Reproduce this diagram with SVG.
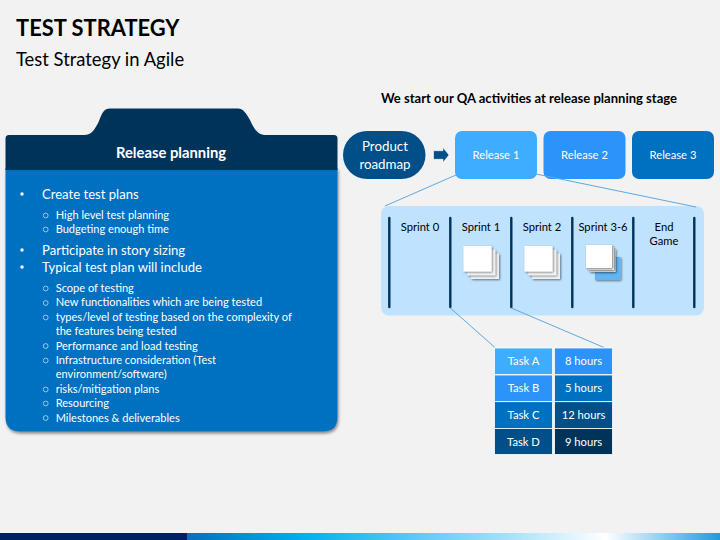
<svg xmlns="http://www.w3.org/2000/svg" width="720" height="540" viewBox="0 0 720 540">
<style>
text{font-family:"Lato","Liberation Sans",sans-serif}
.w{fill:#fff}
.l1{font-size:13.1px;fill:#fff}
.l2{font-size:11.05px;fill:#fff}
.c{text-anchor:middle}
.bar{stroke:#003359;stroke-width:2.4;stroke-linecap:round;fill:none}
.conn{stroke:#5ea8e0;stroke-width:1;fill:none}
.ring{fill:none;stroke:#d5e6f5;stroke-width:.7}
.s{font-size:11.2px;fill:#000;text-anchor:middle}
.t{font-size:11.2px;fill:#fff;text-anchor:middle}
.cell{stroke:#fff;stroke-width:.8}
</style>
<defs>
<linearGradient id="foot" x1="0" x2="1" y1="0" y2="0">
<stop offset="0" stop-color="#0070c0"/><stop offset=".22" stop-color="#00b0f0"/><stop offset=".6" stop-color="#a6e0f8"/><stop offset=".786" stop-color="#ffffff"/><stop offset="1" stop-color="#1e9be0"/>
</linearGradient>
<filter id="sh" x="-10%" y="-10%" width="125%" height="125%"><feDropShadow dx="1" dy="2" stdDeviation="1.6" flood-color="#000" flood-opacity=".45"/></filter>
<filter id="sh2" x="-25%" y="-25%" width="160%" height="160%"><feDropShadow dx="1" dy="1" stdDeviation=".8" flood-color="#000" flood-opacity=".5"/></filter>
<g id="stack">
<rect x="7.500" y="7.500" width="28" height="25.500" fill="#f2f2f2" filter="url(#sh2)"/>
<rect x="3.700" y="3.700" width="28" height="25.500" fill="#f6f6f6" filter="url(#sh2)"/>
<rect x="0" y="0" width="28" height="25.500" fill="#fff" filter="url(#sh2)"/>
</g>
</defs>
<rect width="720" height="540" fill="#f2f2f2"/>
<g id="title">
<text x="16" y="36" font-size="21.900" font-weight="700" fill="#000">TEST STRATEGY</text>
<text x="16" y="66" font-size="18.400" fill="#000">Test Strategy in Agile</text>
<text x="529" y="103" font-size="13.050" font-weight="700" fill="#000" text-anchor="middle">We start our QA activities at release planning stage</text>
</g>
<g id="release-planning">
<path d="M5.500 168H337.500V417Q337.500 431.500 323 431.500H20Q5.500 431.500 5.500 417Z" fill="#0070c0" filter="url(#sh)"/>
<path d="M9 135H84C92 135 95 129 99 121C102 113 104 108.500 110 108.500H238C243 108.500 246 113 250 120C254 129 258 135 266 135H334Q337.500 135 337.500 138.500V170H5.500V138.500Q5.500 135 9 135Z" fill="#003359"/>
<text x="171" y="158" font-size="14.800" font-weight="700" class="w c">Release planning</text>
<g>
<circle cx="22" cy="194" r="1.700" fill="#fff"/><text x="42" y="199" class="l1">Create test plans</text>
<circle cx="22" cy="250" r="1.700" fill="#fff"/><text x="42" y="255" class="l1">Participate in story sizing</text>
<circle cx="22" cy="267" r="1.700" fill="#fff"/><text x="42" y="272" class="l1">Typical test plan will include</text>
</g>
<g>
<circle class="ring" cx="45.700" cy="215.500" r="2.400"/><text x="55.700" y="219" class="l2">High level test planning</text>
<circle class="ring" cx="45.700" cy="229.500" r="2.400"/><text x="55.700" y="233" class="l2">Budgeting enough time</text>
<circle class="ring" cx="45.700" cy="288.500" r="2.400"/><text x="55.700" y="292" class="l2">Scope of testing</text>
<circle class="ring" cx="45.700" cy="303" r="2.400"/><text x="55.700" y="306" class="l2">New functionalities which are being tested</text>
<circle class="ring" cx="45.700" cy="317.500" r="2.400"/><text x="55.700" y="321" class="l2">types/level of testing based on the complexity of</text>
<text x="55.700" y="335" class="l2">the features being tested</text>
<circle class="ring" cx="45.700" cy="346" r="2.400"/><text x="55.700" y="349.500" class="l2">Performance and load testing</text>
<circle class="ring" cx="45.700" cy="360.500" r="2.400"/><text x="55.700" y="364" class="l2">Infrastructure consideration (Test</text>
<text x="55.700" y="378" class="l2">environment/software)</text>
<circle class="ring" cx="45.700" cy="389.500" r="2.400"/><text x="55.700" y="393" class="l2">risks/mitigation plans</text>
<circle class="ring" cx="45.700" cy="403.500" r="2.400"/><text x="55.700" y="407" class="l2">Resourcing</text>
<circle class="ring" cx="45.700" cy="418" r="2.400"/><text x="55.700" y="421.500" class="l2">Milestones &amp; deliverables</text>
</g>
</g>
<g id="product-roadmap">
<rect x="343" y="131" width="82.500" height="48" rx="24" fill="#004f88"/>
<text x="385" y="151" font-size="13.300" class="w c">Product</text>
<text x="385" y="168.500" font-size="13.300" class="w c">roadmap</text>
</g>
<path id="arrow" d="M433.500 150.700H443V147.500L449 155L443 162.500V159.300H433.500Z" fill="#004f88" stroke="#fff" stroke-width=".6"/>
<g id="release-1"><rect x="455" y="131" width="82" height="48" rx="7" fill="#3fadff"/><text x="496" y="159" class="t">Release 1</text></g>
<g id="release-2"><rect x="543.500" y="131" width="82" height="48" rx="7" fill="#2b93fa"/><text x="584.500" y="159" class="t">Release 2</text></g>
<g id="release-3"><rect x="632" y="131" width="82" height="48" rx="7" fill="#0070c0"/><text x="673" y="159" class="t">Release 3</text></g>
<g id="sprints">
<rect x="381" y="206" width="323" height="109.500" rx="8" fill="#bfe3ff"/>
<path class="bar" d="M389.300 218V307M450.300 218V307M511.300 218V307M572.300 218V307M633.300 218V307M694.300 218V307"/>
<text x="420" y="231" class="s">Sprint 0</text>
<text x="481" y="231" class="s">Sprint 1</text>
<text x="542" y="231" class="s">Sprint 2</text>
<text x="603" y="231" class="s">Sprint 3-6</text>
<text x="664" y="231" class="s">End</text>
<text x="664" y="245" class="s">Game</text>
<use href="#stack" x="463.500" y="246"/>
<use href="#stack" x="524.500" y="246"/>
<g id="stack-blue">
<rect x="595" y="257" width="25.500" height="23" fill="#62b5f5" filter="url(#sh2)"/>
<rect x="589.500" y="249" width="26" height="23" fill="#f2f2f2" filter="url(#sh2)"/>
<rect x="588" y="247" width="26" height="23" fill="#f6f6f6" filter="url(#sh2)"/>
<rect x="586" y="245" width="26" height="23" fill="#fff" filter="url(#sh2)"/>
</g>
</g>
<g id="connectors">
<path class="conn" d="M456 175L385 206"/>
<path class="conn" d="M536 174L696 207"/>
<path class="conn" d="M450.300 308L495 347.500"/>
<path class="conn" d="M511.300 308L604 347.500"/>
</g>
<g id="tasks">
<rect class="cell" x="494.500" y="348" width="58" height="26.700" fill="#3fadff"/><text x="523.500" y="365" class="t">Task A</text>
<rect class="cell" x="554.500" y="348" width="58" height="26.700" fill="#2b93fa"/><text x="583.500" y="365" class="t">8 hours</text>
<rect class="cell" x="494.500" y="375" width="58" height="26.700" fill="#2b93fa"/><text x="523.500" y="392" class="t">Task B</text>
<rect class="cell" x="554.500" y="375" width="58" height="26.700" fill="#0070c0"/><text x="583.500" y="392" class="t">5 hours</text>
<rect class="cell" x="494.500" y="401.700" width="58" height="26.700" fill="#0070c0"/><text x="523.500" y="419" class="t">Task C</text>
<rect class="cell" x="554.500" y="401.700" width="58" height="26.700" fill="#004f88"/><text x="583.500" y="419" class="t">12 hours</text>
<rect class="cell" x="494.500" y="428.500" width="58" height="26" fill="#004f88"/><text x="523.500" y="446" class="t">Task D</text>
<rect class="cell" x="554.500" y="428.500" width="58" height="26" fill="#003359"/><text x="583.500" y="446" class="t">9 hours</text>
</g>
<g id="footer">
<rect x="0" y="533" width="187" height="7" fill="#002060"/>
<rect x="187" y="533" width="533" height="7" fill="url(#foot)"/>
</g>
</svg>
